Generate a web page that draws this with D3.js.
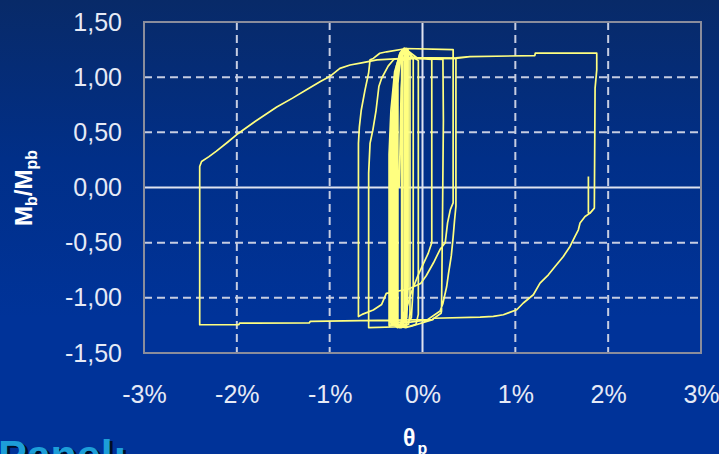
<!DOCTYPE html>
<html><head><meta charset="utf-8">
<script src="https://cdn.jsdelivr.net/npm/d3@7"></script>
<style>html,body{margin:0;padding:0;overflow:hidden;background:#003399}</style>
</head><body>
<svg id="c" width="719" height="454"></svg>
<script>
// ---- data ----
const xTicks = [-3, -2, -1, 0, 1, 2, 3];
const xTickLabels = ["-3%", "-2%", "-1%", "0%", "1%", "2%", "3%"];
const yTicks = [-1.5, -1, -0.5, 0, 0.5, 1, 1.5];
const yTickLabels = ["-1,50", "-1,00", "-0,50", "0,00", "0,50", "1,00", "1,50"];
const xGrid = [-2, -1, 1, 2];
const yGrid = [-1, -0.5, 0.5, 1];

// dense small cycles [theta %, Mb/Mpb]
const bandPath = [
  [-0.25,0.00],[-0.23,0.90],[-0.21,1.20],[-0.19,1.26],[-0.17,1.25],
  [-0.17,-1.00],[-0.19,-1.20],[-0.24,-1.24],[-0.30,-1.23],
  [-0.30,0.30],[-0.28,0.85],[-0.24,1.18],[-0.19,1.26],[-0.16,1.25],
  [-0.16,-0.95],[-0.18,-1.21],[-0.26,-1.25],[-0.32,-1.23],
  [-0.32,0.32],[-0.30,0.80],[-0.26,1.15],[-0.20,1.25],[-0.18,1.25],
  [-0.18,-1.05],[-0.20,-1.24],[-0.28,-1.26],[-0.33,-1.22],
  [-0.33,0.30],[-0.31,0.75],[-0.27,1.12],[-0.22,1.24],[-0.155,1.24],
  [-0.155,-0.90],[-0.17,-1.18],[-0.22,-1.26],[-0.34,-1.24],
  [-0.34,0.32],[-0.32,0.72],[-0.28,1.10],[-0.23,1.23],[-0.165,1.25],
  [-0.165,-1.10],[-0.18,-1.25],[-0.25,-1.27],[-0.35,-1.22],
  [-0.35,0.34],[-0.335,0.62],[-0.30,1.00],[-0.25,1.20],[-0.20,1.26],[-0.135,1.16],
  [-0.135,-1.14],[-0.15,-1.24],[-0.23,-1.27],[-0.34,-1.23],
  [-0.34,0.30],[-0.32,0.70],[-0.29,1.05],[-0.24,1.22],[-0.19,1.26],[-0.10,1.16],
  [-0.10,-0.90],[-0.12,-1.18],[-0.20,-1.26],[-0.33,-1.22],
  [-0.33,0.30],[-0.31,0.78],[-0.27,1.13],[-0.22,1.25],[-0.045,1.15],
  [-0.045,-1.15],[-0.07,-1.24],[-0.18,-1.27],[-0.29,-1.25],
  [-0.29,0.40],[-0.27,0.90],[-0.235,1.20],[-0.20,1.26],[-0.19,1.25],
  [-0.19,-1.12],[-0.21,-1.25],[-0.27,-1.27],[-0.31,-1.24],
  [-0.31,0.36],[-0.29,0.82],[-0.25,1.16],[-0.21,1.25],[-0.175,1.24],
  [-0.175,-1.08],[-0.195,-1.22],[-0.26,-1.26],[-0.305,-1.23],
  [-0.305,0.34],[-0.285,0.80],[-0.26,1.10],[-0.225,1.22],
  [-0.225,-1.20],[-0.245,-1.26],[-0.275,-1.24],[-0.275,1.05],[-0.25,1.20],[-0.21,1.25],
  [-0.21,-1.18],[-0.23,-1.26],[-0.265,-1.25],[-0.265,1.12],[-0.235,1.22],[-0.195,1.26]
];

// intermediate cycles
const midPath = [
  [-0.19,1.26],[-0.05,1.17],[0.10,1.16],[0.10,-0.50],[0.06,-0.60],[0.01,-0.69],[-0.05,-0.80],
  [-0.12,-0.95],[-0.18,-1.12],[-0.22,-1.24],[-0.36,-1.25],
  [-0.36,0.30],[-0.34,0.70],[-0.30,1.05],[-0.24,1.22],[-0.19,1.26],
  [0.33,1.25],[0.33,-0.14],[0.30,-0.20],[0.27,-0.32],[0.245,-0.50],[0.19,-0.56],[0.12,-0.68],
  [0.04,-0.80],[-0.02,-0.87],[-0.15,-0.92],[-0.39,-0.96],[-0.44,-1.06],[-0.53,-1.11],
  [-0.65,-1.15],[-0.69,-1.17],
  [-0.69,0.40],[-0.68,0.55],[-0.66,0.70],[-0.62,0.88],[-0.58,1.04],[-0.565,1.157],[-0.53,1.17],
  [-0.46,1.217],[-0.386,1.23],[-0.17,1.26],
  [-0.10,1.17],[0.22,1.16],[0.225,0.61],[0.215,-0.32],[0.205,-1.12],[0.20,-1.14],[0.10,-1.20],
  [-0.13,-1.26],[-0.58,-1.27],
  [-0.58,0.13],[-0.565,0.40],[-0.535,0.52],[-0.50,0.70],[-0.47,0.915],[-0.44,0.99],[-0.37,1.10],
  [-0.31,1.16],[-0.20,1.18],
  [0.36,1.17],[0.36,-0.17],[0.345,-0.30],[0.33,-0.45],[0.31,-0.62],[0.28,-0.78],[0.26,-0.90],
  [0.22,-1.05],[0.19,-1.12],[0.05,-1.20],[-0.13,-1.22],[-0.30,-1.22]
];

// final large cycle
const outerPath = [
  [-0.30,-1.22],[-0.32,0.30],[-0.29,0.95],[-0.24,1.15],[-0.10,1.17],[0.36,1.17],[0.51,1.187],
  [1.21,1.195],[1.215,1.217],[1.877,1.217],[1.877,1.066],[1.859,0.90],[1.851,-0.187],
  [1.805,-0.232],[1.751,-0.263],[1.697,-0.322],[1.679,-0.383],[1.643,-0.444],[1.589,-0.534],
  [1.517,-0.625],[1.428,-0.716],[1.356,-0.791],[1.266,-0.866],[1.194,-0.972],[1.086,-1.047],
  [1.015,-1.108],[0.871,-1.153],[0.763,-1.168],[0.62,-1.174],[0.12,-1.185],[0.11,-1.198],
  [-0.12,-1.20],[-1.21,-1.214],[-1.22,-1.228],[-1.97,-1.23],[-1.98,-1.244],[-2.40,-1.244],
  [-2.40,0.19],[-2.38,0.236],[-2.30,0.28],[-2.22,0.33],[-2.10,0.41],[-1.985,0.49],[-1.80,0.60],
  [-1.57,0.73],[-1.40,0.81],[-1.25,0.885],[-1.10,0.96],[-1.00,1.005],[-0.89,1.08],[-0.78,1.11],
  [-0.67,1.127],[-0.49,1.157],[-0.20,1.17],[0.36,1.175],[0.51,1.187],[1.21,1.195],[1.215,1.217],
  [1.877,1.217],[1.877,1.066],[1.859,0.90],[1.851,-0.187],[1.805,-0.232],[1.787,-0.23],[1.787,0.10]
];

// ---- drawing ----
const W = 719, H = 454;
const svg = d3.select("#c");
const defs = svg.append("defs");
const grad = defs.append("linearGradient").attr("id","bg").attr("x1",0).attr("y1",0).attr("x2",0).attr("y2",1);
grad.append("stop").attr("offset","0%").attr("stop-color","#082a68");
grad.append("stop").attr("offset","35%").attr("stop-color","#012f88");
grad.append("stop").attr("offset","70%").attr("stop-color","#003399");
grad.append("stop").attr("offset","100%").attr("stop-color","#003399");
svg.append("rect").attr("width",W).attr("height",H).attr("fill","url(#bg)");

const x = d3.scaleLinear().domain([-3,3]).range([144,701]);
const y = d3.scaleLinear().domain([-1.5,1.5]).range([353,22]);

// grid
const g = svg.append("g");
g.selectAll(".hg").data(yGrid).join("line")
  .attr("x1",x(-3)).attr("x2",x(3)).attr("y1",d=>y(d)).attr("y2",d=>y(d))
  .attr("stroke","#c6cde2").attr("stroke-width",2).attr("stroke-dasharray","8,5");
g.selectAll(".vg").data(xGrid).join("line")
  .attr("y1",y(1.5)).attr("y2",y(-1.5)).attr("x1",d=>x(d)).attr("x2",d=>x(d))
  .attr("stroke","#c6cde2").attr("stroke-width",2).attr("stroke-dasharray","8,5");
g.append("line").attr("x1",x(-3)).attr("x2",x(3)).attr("y1",y(0)).attr("y2",y(0))
  .attr("stroke","#dfe3f0").attr("stroke-width",2);
g.append("line").attr("y1",y(1.5)).attr("y2",y(-1.5)).attr("x1",x(0)).attr("x2",x(0))
  .attr("stroke","#dfe3f0").attr("stroke-width",2);

// curves
const line = d3.line().x(d=>x(d[0])).y(d=>y(d[1]));
[bandPath, midPath, outerPath].forEach(p=>{
  svg.append("path").attr("d",line(p)).attr("fill","none")
    .attr("stroke","#ffff80").attr("stroke-width",1.7).attr("stroke-linejoin","round");
});

// border
svg.append("rect").attr("x",x(-3)).attr("y",y(1.5)).attr("width",x(3)-x(-3)).attr("height",y(-1.5)-y(1.5))
  .attr("fill","none").attr("stroke","#8a8d9c").attr("stroke-width",2);

// axes
const font = "'Liberation Sans', Arial, sans-serif";
const ya = svg.append("g").attr("transform",`translate(${x(-3)},0)`)
  .call(d3.axisLeft(y).tickValues(yTicks).tickFormat((d,i)=>yTickLabels[i]).tickSize(0).tickPadding(22));
ya.select(".domain").remove();
ya.selectAll("text").attr("font-family",font).attr("font-size",25).attr("fill","#e6eaf6");

const xa = svg.append("g").attr("transform",`translate(0,${y(-1.5)})`)
  .call(d3.axisBottom(x).tickValues(xTicks).tickFormat((d,i)=>xTickLabels[i]).tickSize(0).tickPadding(32));
xa.select(".domain").remove();
xa.selectAll("text").attr("font-family",font).attr("font-size",25).attr("fill","#e6eaf6");

// axis titles
const xt = svg.append("text").attr("x",403).attr("y",446).attr("font-family",font)
  .attr("font-weight","bold").attr("font-size",23).attr("fill","#ffffff");
xt.append("tspan").text("θ");
xt.append("tspan").attr("dx",2).attr("dy",8).attr("font-size",16).text("p");

const yt = svg.append("text").attr("transform","translate(32,188) rotate(-90)")
  .attr("text-anchor","middle").attr("font-family",font).attr("font-weight","bold")
  .attr("font-size",24).attr("fill","#ffffff");
yt.append("tspan").text("M");
yt.append("tspan").attr("dy",5).attr("font-size",16).text("b");
yt.append("tspan").attr("dy",-5).text("/M");
yt.append("tspan").attr("dy",5).attr("font-size",16).text("pb");

// partial slide heading (cut by the bottom edge)
svg.append("text").attr("x",1).attr("y",472).attr("font-family",font).attr("font-weight","bold")
  .attr("font-size",43).attr("fill","#000814").attr("opacity",0.85).text("Panel:");
svg.append("text").attr("x",-2).attr("y",470).attr("font-family",font).attr("font-weight","bold")
  .attr("font-size",43).attr("fill","#1d9ed8").text("Panel:");
</script>
</body></html>
